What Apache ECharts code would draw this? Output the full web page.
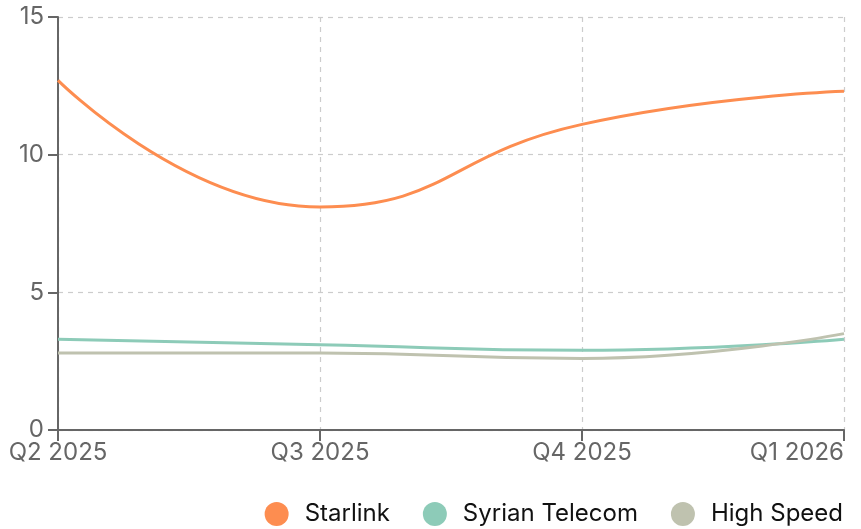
<!DOCTYPE html>
<html>
<head>
<meta charset="utf-8">
<script src="https://cdn.jsdelivr.net/npm/echarts@6/dist/echarts.min.js"></script>
<style>
  html, body { margin: 0; padding: 0; background: #fff; }
  #chart { width: 861px; height: 529px; }
</style>
</head>
<body>
<div id="chart"></div>
<script>
const quarters = ["Q2 2025", "Q3 2025", "Q4 2025", "Q1 2026"];
const starlink = [12.7, 8.1, 11.1, 12.3];
const syrianTelecom = [3.3, 3.1, 2.9, 3.3];
const highSpeed = [2.8, 2.8, 2.6, 3.5];

const chart = echarts.init(document.getElementById("chart"));

const gridLine = { show: true, lineStyle: { color: "#cccccc", type: [5, 5], width: 1.2 } };
const font = "Inter, 'Noto Sans', sans-serif";

function line(name, data, color) {
  return {
    name,
    type: "line",
    smooth: true,
    symbol: "none",
    data,
    lineStyle: { color, width: 3 },
    itemStyle: { color },
  };
}

chart.setOption({
  backgroundColor: "#ffffff",
  animation: false,
  grid: { left: 58, right: 17, top: 17, bottom: 99, outerBoundsMode: "none", containLabel: false },
  legend: {
    right: 13,
    bottom: -2,
    icon: "circle",
    itemWidth: 24,
    itemHeight: 24,
    itemGap: 33,
    textStyle: { color: "#111111", fontSize: 24, fontFamily: font, padding: [0, 0, 0, 11] },
  },
  xAxis: {
    type: "category",
    data: quarters,
    boundaryGap: false,
    axisLine: { lineStyle: { color: "#666666", width: 2 } },
    axisTick: { show: true, alignWithLabel: true, length: 11, lineStyle: { color: "#666666", width: 2 } },
    axisLabel: { color: "#666666", fontSize: 24, fontFamily: font, margin: 11, alignMaxLabel: "right" },
    splitLine: gridLine,
  },
  yAxis: {
    type: "value",
    min: 0,
    max: 15,
    interval: 5,
    axisLine: { show: true, lineStyle: { color: "#666666", width: 2 } },
    axisTick: { show: true, length: 10, lineStyle: { color: "#666666", width: 2 } },
    axisLabel: { color: "#666666", fontSize: 24, fontFamily: font, margin: 14 },
    splitLine: gridLine,
  },
  series: [
    line("Starlink", starlink, "#fd8d50"),
    line("Syrian Telecom", syrianTelecom, "#8dcbb8"),
    line("High Speed", highSpeed, "#bfc2af"),
  ],
});
</script>
</body>
</html>
